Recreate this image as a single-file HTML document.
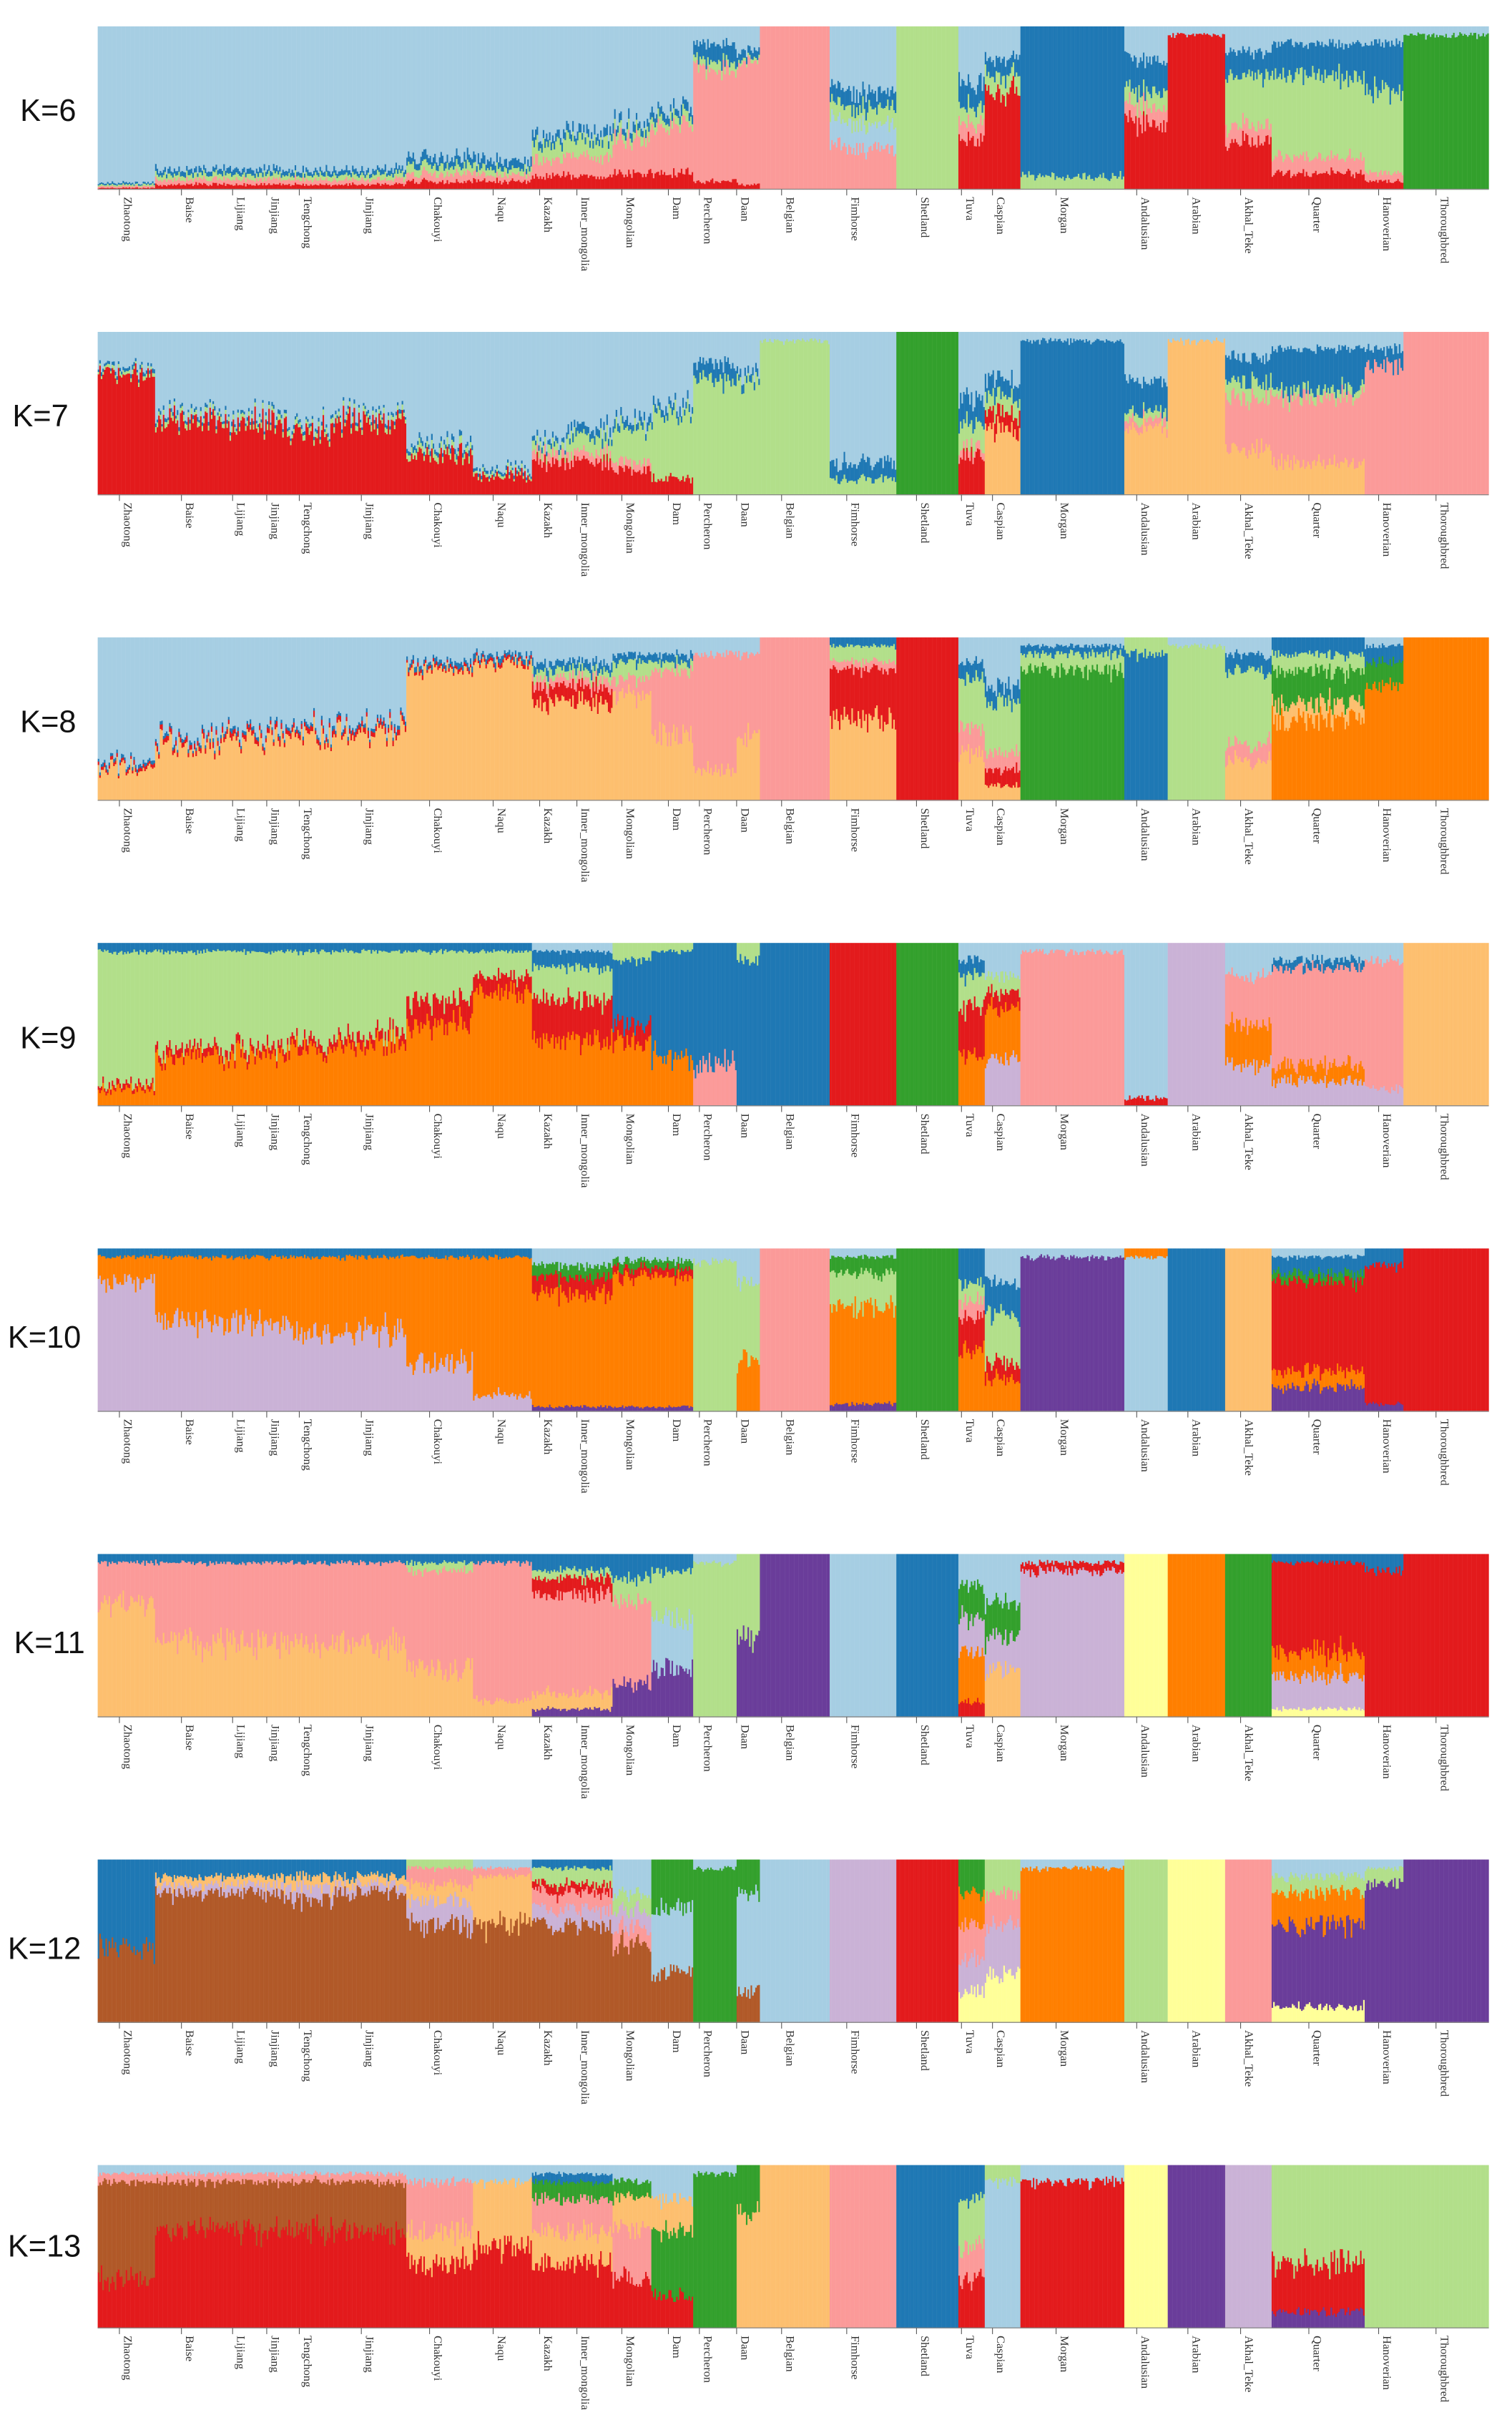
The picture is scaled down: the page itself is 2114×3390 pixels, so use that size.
<!DOCTYPE html>
<html><head><meta charset="utf-8"><style>
html,body{margin:0;padding:0;background:#fff;}
svg{display:block;}
.l text{font-family:"Liberation Serif",serif;font-size:7.5px;fill:#333;}
.k{font-family:"Liberation Sans",sans-serif;font-size:20px;fill:#111;}
</style></head><body>
<svg id="s" xmlns="http://www.w3.org/2000/svg" width="2114" height="3390" viewBox="0 0 975 1563.6" preserveAspectRatio="none">
<g id="bars"></g>
<text class="k" x="13" y="78">K=6</text>
<text class="k" x="8" y="275">K=7</text>
<text class="k" x="13" y="472">K=8</text>
<text class="k" x="13" y="676">K=9</text>
<text class="k" x="5" y="869">K=10</text>
<text class="k" x="9" y="1066">K=11</text>
<text class="k" x="5" y="1263">K=12</text>
<text class="k" x="5" y="1455">K=13</text>
<g class="l" transform="translate(0,127)"><text transform="translate(80,0) rotate(90)">Zhaotong</text><text transform="translate(120,0) rotate(90)">Baise</text><text transform="translate(153,0) rotate(90)">Lijiang</text><text transform="translate(175,0) rotate(90)">Jinjiang</text><text transform="translate(196,0) rotate(90)">Tengchong</text><text transform="translate(236,0) rotate(90)">Jinjiang</text><text transform="translate(280,0) rotate(90)">Chakouyi</text><text transform="translate(321,0) rotate(90)">Naqu</text><text transform="translate(351,0) rotate(90)">Kazakh</text><text transform="translate(375,0) rotate(90)">Inner_mongolia</text><text transform="translate(404,0) rotate(90)">Mongolian</text><text transform="translate(434,0) rotate(90)">Dam</text><text transform="translate(454,0) rotate(90)">Percheron</text><text transform="translate(478,0) rotate(90)">Daan</text><text transform="translate(507,0) rotate(90)">Belgian</text><text transform="translate(549,0) rotate(90)">Fimhorse</text><text transform="translate(594,0) rotate(90)">Shetland</text><text transform="translate(623,0) rotate(90)">Tuva</text><text transform="translate(643,0) rotate(90)">Caspian</text><text transform="translate(684,0) rotate(90)">Morgan</text><text transform="translate(736,0) rotate(90)">Andalusian</text><text transform="translate(769,0) rotate(90)">Arabian</text><text transform="translate(803,0) rotate(90)">Akhal_Teke</text><text transform="translate(847,0) rotate(90)">Quarter</text><text transform="translate(892,0) rotate(90)">Hanoverian</text><text transform="translate(929,0) rotate(90)">Thoroughbred</text></g>
<g class="l" transform="translate(0,324)"><text transform="translate(80,0) rotate(90)">Zhaotong</text><text transform="translate(120,0) rotate(90)">Baise</text><text transform="translate(153,0) rotate(90)">Lijiang</text><text transform="translate(175,0) rotate(90)">Jinjiang</text><text transform="translate(196,0) rotate(90)">Tengchong</text><text transform="translate(236,0) rotate(90)">Jinjiang</text><text transform="translate(280,0) rotate(90)">Chakouyi</text><text transform="translate(321,0) rotate(90)">Naqu</text><text transform="translate(351,0) rotate(90)">Kazakh</text><text transform="translate(375,0) rotate(90)">Inner_mongolia</text><text transform="translate(404,0) rotate(90)">Mongolian</text><text transform="translate(434,0) rotate(90)">Dam</text><text transform="translate(454,0) rotate(90)">Percheron</text><text transform="translate(478,0) rotate(90)">Daan</text><text transform="translate(507,0) rotate(90)">Belgian</text><text transform="translate(549,0) rotate(90)">Fimhorse</text><text transform="translate(594,0) rotate(90)">Shetland</text><text transform="translate(623,0) rotate(90)">Tuva</text><text transform="translate(643,0) rotate(90)">Caspian</text><text transform="translate(684,0) rotate(90)">Morgan</text><text transform="translate(736,0) rotate(90)">Andalusian</text><text transform="translate(769,0) rotate(90)">Arabian</text><text transform="translate(803,0) rotate(90)">Akhal_Teke</text><text transform="translate(847,0) rotate(90)">Quarter</text><text transform="translate(892,0) rotate(90)">Hanoverian</text><text transform="translate(929,0) rotate(90)">Thoroughbred</text></g>
<g class="l" transform="translate(0,521)"><text transform="translate(80,0) rotate(90)">Zhaotong</text><text transform="translate(120,0) rotate(90)">Baise</text><text transform="translate(153,0) rotate(90)">Lijiang</text><text transform="translate(175,0) rotate(90)">Jinjiang</text><text transform="translate(196,0) rotate(90)">Tengchong</text><text transform="translate(236,0) rotate(90)">Jinjiang</text><text transform="translate(280,0) rotate(90)">Chakouyi</text><text transform="translate(321,0) rotate(90)">Naqu</text><text transform="translate(351,0) rotate(90)">Kazakh</text><text transform="translate(375,0) rotate(90)">Inner_mongolia</text><text transform="translate(404,0) rotate(90)">Mongolian</text><text transform="translate(434,0) rotate(90)">Dam</text><text transform="translate(454,0) rotate(90)">Percheron</text><text transform="translate(478,0) rotate(90)">Daan</text><text transform="translate(507,0) rotate(90)">Belgian</text><text transform="translate(549,0) rotate(90)">Fimhorse</text><text transform="translate(594,0) rotate(90)">Shetland</text><text transform="translate(623,0) rotate(90)">Tuva</text><text transform="translate(643,0) rotate(90)">Caspian</text><text transform="translate(684,0) rotate(90)">Morgan</text><text transform="translate(736,0) rotate(90)">Andalusian</text><text transform="translate(769,0) rotate(90)">Arabian</text><text transform="translate(803,0) rotate(90)">Akhal_Teke</text><text transform="translate(847,0) rotate(90)">Quarter</text><text transform="translate(892,0) rotate(90)">Hanoverian</text><text transform="translate(929,0) rotate(90)">Thoroughbred</text></g>
<g class="l" transform="translate(0,718)"><text transform="translate(80,0) rotate(90)">Zhaotong</text><text transform="translate(120,0) rotate(90)">Baise</text><text transform="translate(153,0) rotate(90)">Lijiang</text><text transform="translate(175,0) rotate(90)">Jinjiang</text><text transform="translate(196,0) rotate(90)">Tengchong</text><text transform="translate(236,0) rotate(90)">Jinjiang</text><text transform="translate(280,0) rotate(90)">Chakouyi</text><text transform="translate(321,0) rotate(90)">Naqu</text><text transform="translate(351,0) rotate(90)">Kazakh</text><text transform="translate(375,0) rotate(90)">Inner_mongolia</text><text transform="translate(404,0) rotate(90)">Mongolian</text><text transform="translate(434,0) rotate(90)">Dam</text><text transform="translate(454,0) rotate(90)">Percheron</text><text transform="translate(478,0) rotate(90)">Daan</text><text transform="translate(507,0) rotate(90)">Belgian</text><text transform="translate(549,0) rotate(90)">Fimhorse</text><text transform="translate(594,0) rotate(90)">Shetland</text><text transform="translate(623,0) rotate(90)">Tuva</text><text transform="translate(643,0) rotate(90)">Caspian</text><text transform="translate(684,0) rotate(90)">Morgan</text><text transform="translate(736,0) rotate(90)">Andalusian</text><text transform="translate(769,0) rotate(90)">Arabian</text><text transform="translate(803,0) rotate(90)">Akhal_Teke</text><text transform="translate(847,0) rotate(90)">Quarter</text><text transform="translate(892,0) rotate(90)">Hanoverian</text><text transform="translate(929,0) rotate(90)">Thoroughbred</text></g>
<g class="l" transform="translate(0,915)"><text transform="translate(80,0) rotate(90)">Zhaotong</text><text transform="translate(120,0) rotate(90)">Baise</text><text transform="translate(153,0) rotate(90)">Lijiang</text><text transform="translate(175,0) rotate(90)">Jinjiang</text><text transform="translate(196,0) rotate(90)">Tengchong</text><text transform="translate(236,0) rotate(90)">Jinjiang</text><text transform="translate(280,0) rotate(90)">Chakouyi</text><text transform="translate(321,0) rotate(90)">Naqu</text><text transform="translate(351,0) rotate(90)">Kazakh</text><text transform="translate(375,0) rotate(90)">Inner_mongolia</text><text transform="translate(404,0) rotate(90)">Mongolian</text><text transform="translate(434,0) rotate(90)">Dam</text><text transform="translate(454,0) rotate(90)">Percheron</text><text transform="translate(478,0) rotate(90)">Daan</text><text transform="translate(507,0) rotate(90)">Belgian</text><text transform="translate(549,0) rotate(90)">Fimhorse</text><text transform="translate(594,0) rotate(90)">Shetland</text><text transform="translate(623,0) rotate(90)">Tuva</text><text transform="translate(643,0) rotate(90)">Caspian</text><text transform="translate(684,0) rotate(90)">Morgan</text><text transform="translate(736,0) rotate(90)">Andalusian</text><text transform="translate(769,0) rotate(90)">Arabian</text><text transform="translate(803,0) rotate(90)">Akhal_Teke</text><text transform="translate(847,0) rotate(90)">Quarter</text><text transform="translate(892,0) rotate(90)">Hanoverian</text><text transform="translate(929,0) rotate(90)">Thoroughbred</text></g>
<g class="l" transform="translate(0,1112)"><text transform="translate(80,0) rotate(90)">Zhaotong</text><text transform="translate(120,0) rotate(90)">Baise</text><text transform="translate(153,0) rotate(90)">Lijiang</text><text transform="translate(175,0) rotate(90)">Jinjiang</text><text transform="translate(196,0) rotate(90)">Tengchong</text><text transform="translate(236,0) rotate(90)">Jinjiang</text><text transform="translate(280,0) rotate(90)">Chakouyi</text><text transform="translate(321,0) rotate(90)">Naqu</text><text transform="translate(351,0) rotate(90)">Kazakh</text><text transform="translate(375,0) rotate(90)">Inner_mongolia</text><text transform="translate(404,0) rotate(90)">Mongolian</text><text transform="translate(434,0) rotate(90)">Dam</text><text transform="translate(454,0) rotate(90)">Percheron</text><text transform="translate(478,0) rotate(90)">Daan</text><text transform="translate(507,0) rotate(90)">Belgian</text><text transform="translate(549,0) rotate(90)">Fimhorse</text><text transform="translate(594,0) rotate(90)">Shetland</text><text transform="translate(623,0) rotate(90)">Tuva</text><text transform="translate(643,0) rotate(90)">Caspian</text><text transform="translate(684,0) rotate(90)">Morgan</text><text transform="translate(736,0) rotate(90)">Andalusian</text><text transform="translate(769,0) rotate(90)">Arabian</text><text transform="translate(803,0) rotate(90)">Akhal_Teke</text><text transform="translate(847,0) rotate(90)">Quarter</text><text transform="translate(892,0) rotate(90)">Hanoverian</text><text transform="translate(929,0) rotate(90)">Thoroughbred</text></g>
<g class="l" transform="translate(0,1309)"><text transform="translate(80,0) rotate(90)">Zhaotong</text><text transform="translate(120,0) rotate(90)">Baise</text><text transform="translate(153,0) rotate(90)">Lijiang</text><text transform="translate(175,0) rotate(90)">Jinjiang</text><text transform="translate(196,0) rotate(90)">Tengchong</text><text transform="translate(236,0) rotate(90)">Jinjiang</text><text transform="translate(280,0) rotate(90)">Chakouyi</text><text transform="translate(321,0) rotate(90)">Naqu</text><text transform="translate(351,0) rotate(90)">Kazakh</text><text transform="translate(375,0) rotate(90)">Inner_mongolia</text><text transform="translate(404,0) rotate(90)">Mongolian</text><text transform="translate(434,0) rotate(90)">Dam</text><text transform="translate(454,0) rotate(90)">Percheron</text><text transform="translate(478,0) rotate(90)">Daan</text><text transform="translate(507,0) rotate(90)">Belgian</text><text transform="translate(549,0) rotate(90)">Fimhorse</text><text transform="translate(594,0) rotate(90)">Shetland</text><text transform="translate(623,0) rotate(90)">Tuva</text><text transform="translate(643,0) rotate(90)">Caspian</text><text transform="translate(684,0) rotate(90)">Morgan</text><text transform="translate(736,0) rotate(90)">Andalusian</text><text transform="translate(769,0) rotate(90)">Arabian</text><text transform="translate(803,0) rotate(90)">Akhal_Teke</text><text transform="translate(847,0) rotate(90)">Quarter</text><text transform="translate(892,0) rotate(90)">Hanoverian</text><text transform="translate(929,0) rotate(90)">Thoroughbred</text></g>
<g class="l" transform="translate(0,1506)"><text transform="translate(80,0) rotate(90)">Zhaotong</text><text transform="translate(120,0) rotate(90)">Baise</text><text transform="translate(153,0) rotate(90)">Lijiang</text><text transform="translate(175,0) rotate(90)">Jinjiang</text><text transform="translate(196,0) rotate(90)">Tengchong</text><text transform="translate(236,0) rotate(90)">Jinjiang</text><text transform="translate(280,0) rotate(90)">Chakouyi</text><text transform="translate(321,0) rotate(90)">Naqu</text><text transform="translate(351,0) rotate(90)">Kazakh</text><text transform="translate(375,0) rotate(90)">Inner_mongolia</text><text transform="translate(404,0) rotate(90)">Mongolian</text><text transform="translate(434,0) rotate(90)">Dam</text><text transform="translate(454,0) rotate(90)">Percheron</text><text transform="translate(478,0) rotate(90)">Daan</text><text transform="translate(507,0) rotate(90)">Belgian</text><text transform="translate(549,0) rotate(90)">Fimhorse</text><text transform="translate(594,0) rotate(90)">Shetland</text><text transform="translate(623,0) rotate(90)">Tuva</text><text transform="translate(643,0) rotate(90)">Caspian</text><text transform="translate(684,0) rotate(90)">Morgan</text><text transform="translate(736,0) rotate(90)">Andalusian</text><text transform="translate(769,0) rotate(90)">Arabian</text><text transform="translate(803,0) rotate(90)">Akhal_Teke</text><text transform="translate(847,0) rotate(90)">Quarter</text><text transform="translate(892,0) rotate(90)">Hanoverian</text><text transform="translate(929,0) rotate(90)">Thoroughbred</text></g>
</svg>
<script>
(function(){
var C={lb:"#a6cee3",db:"#1f78b4",lg:"#b2df8a",dg:"#33a02c",pk:"#fb9a99",rd:"#e31a1c",lo:"#fdbf6f",or:"#ff7f00",lp:"#cab2d6",pu:"#6a3d9a",yl:"#ffff99",br:"#b15928"};
var X=[63,100,145,165,185,215,262,305,343,365,395,420,447,475,490,535,578,618,635,658,725,753,790,820,880,905,960];
function p(s){return s.split(" ").map(function(t){var a=t.split(":");return [a[0],+a[1]];});}
var CH6="rd:.03 pk:.03 lg:.03 db:.03 lb:.88";
var D=[
[ "rd:.01 pk:.01 lg:.01 db:.01 lb:.96",CH6,CH6,CH6,CH6,CH6,"rd:.05 pk:.05 lg:.05 db:.05 lb:.8","rd:.05 pk:.04 lg:.04 db:.05 lb:.82","rd:.08 pk:.1 lg:.1 db:.05 lb:.67","rd:.08 pk:.12 lg:.1 db:.05 lb:.65","rd:.1 pk:.2 lg:.05 db:.05 lb:.6","rd:.1 pk:.3 lg:.05 db:.05 lb:.5","rd:.05 pk:.7 lg:.05 db:.1 lb:.1","rd:.03 pk:.75 lg:.02 db:.05 lb:.15","pk:1","pk:.25 lb:.15 lg:.1 db:.1 lb:.4","lg:1","rd:.3 pk:.1 lg:.1 db:.15 lb:.35","rd:.6 lg:.1 db:.1 lb:.2","lg:.08 db:.92","rd:.4 pk:.1 lg:.1 db:.2 lb:.2","rd:.95 lb:.05","rd:.3 pk:.1 lg:.3 db:.15 lb:.15","rd:.1 pk:.1 lg:.5 db:.2 lb:.1","rd:.05 pk:.05 lg:.5 db:.3 lb:.1","dg:.95 lb:.05"],
[ "rd:.75 lg:.02 db:.02 lb:.21","rd:.45 lg:.03 db:.02 lb:.5","rd:.45 lg:.03 db:.02 lb:.5","rd:.45 lg:.03 db:.02 lb:.5","rd:.4 lg:.03 db:.02 lb:.55","rd:.45 lg:.03 db:.02 lb:.5","rd:.25 lg:.04 db:.03 lb:.68","rd:.12 lg:.02 db:.02 lb:.84","rd:.2 pk:.05 lg:.05 db:.03 lb:.67","rd:.2 pk:.05 lg:.1 db:.05 lb:.6","rd:.15 pk:.05 lg:.2 db:.05 lb:.55","rd:.1 lg:.4 db:.05 lb:.45","lg:.7 db:.1 lb:.2","lg:.7 db:.05 lb:.25","lg:.95 lb:.05","lg:.1 db:.1 lb:.8","dg:1","rd:.25 pk:.05 lg:.15 db:.15 lb:.4","lo:.4 rd:.1 lg:.1 db:.1 lb:.3","db:.95 lb:.05","lo:.4 pk:.05 lg:.05 db:.2 lb:.3","lo:.95 lb:.05","lo:.3 pk:.3 lg:.1 db:.15 lb:.15","lo:.2 pk:.4 lg:.05 db:.25 lb:.1","pk:.8 db:.1 lb:.1","pk:1"],
[ "lo:.2 rd:.02 db:.02 lb:.76","lo:.35 rd:.03 db:.02 lb:.6","lo:.38 rd:.03 db:.02 lb:.57","lo:.38 rd:.03 db:.02 lb:.57","lo:.4 rd:.03 db:.02 lb:.55","lo:.42 rd:.03 db:.02 lb:.53","lo:.8 rd:.02 db:.03 lb:.15","lo:.85 rd:.02 db:.03 lb:.1","lo:.6 rd:.1 pk:.05 lg:.05 db:.05 lb:.15","lo:.6 rd:.1 pk:.05 lg:.05 db:.05 lb:.15","lo:.65 pk:.1 lg:.1 db:.05 lb:.1","lo:.4 pk:.4 lg:.05 db:.05 lb:.1","lo:.2 pk:.7 lb:.1","lo:.4 pk:.5 lb:.1","pk:1","lo:.5 rd:.3 pk:.05 lg:.1 db:.05","rd:1","lo:.3 pk:.15 lg:.3 db:.1 lb:.15","lo:.1 rd:.1 pk:.1 lg:.3 db:.1 lb:.3","dg:.8 lg:.1 db:.05 lb:.05","db:.9 lg:.1","lg:.95 lb:.05","lo:.25 pk:.1 lg:.45 db:.1 lb:.1","or:.5 lo:.1 dg:.2 lg:.1 db:.1","or:.7 dg:.15 db:.1 lb:.05","or:1"],
[ "or:.1 rd:.03 lg:.82 db:.05","or:.3 rd:.05 lg:.6 db:.05","or:.3 rd:.05 lg:.6 db:.05","or:.32 rd:.05 lg:.58 db:.05","or:.35 rd:.05 lg:.55 db:.05","or:.38 rd:.06 lg:.51 db:.05","or:.5 rd:.15 lg:.3 db:.05","or:.7 rd:.1 lg:.15 db:.05","or:.4 rd:.25 lg:.2 db:.1 lb:.05","or:.4 rd:.25 lg:.2 db:.1 lb:.05","or:.4 rd:.1 db:.4 lg:.1","or:.3 db:.65 lg:.05","pk:.25 db:.75","db:.9 lg:.1","db:1","rd:1","dg:1","or:.3 rd:.3 lg:.2 db:.1 lb:.1","lp:.3 or:.3 rd:.1 lg:.1 lb:.2","pk:.95 lb:.05","rd:.05 lb:.95","lp:1","lp:.25 or:.25 pk:.3 lb:.2","lp:.15 or:.1 pk:.6 db:.05 lb:.1","lp:.1 pk:.8 lb:.1","lo:1"],
[ "lp:.8 or:.15 db:.05","lp:.55 or:.4 db:.05","lp:.55 or:.4 db:.05","lp:.55 or:.4 db:.05","lp:.5 or:.45 db:.05","lp:.5 or:.45 db:.05","lp:.3 or:.65 db:.05","lp:.1 or:.85 db:.05","pu:.03 or:.7 rd:.1 dg:.07 lb:.1","pu:.03 or:.7 rd:.1 dg:.07 lb:.1","pu:.03 or:.8 rd:.05 dg:.05 lb:.07","pu:.03 or:.8 rd:.05 dg:.05 lb:.07","lg:.92 lb:.08","or:.3 lg:.5 lb:.2","pk:1","pu:.05 or:.6 lg:.2 dg:.1 lb:.05","dg:1","or:.4 rd:.2 pk:.1 lg:.1 db:.2","or:.2 rd:.1 lg:.3 db:.2 lb:.2","pu:.95 lb:.05","lb:.95 or:.05","db:1","lo:1","pu:.15 or:.1 rd:.55 dg:.05 db:.1 lb:.05","pu:.05 rd:.85 db:.1","rd:1"],
[ "lo:.7 pk:.25 db:.05","lo:.45 pk:.5 db:.05","lo:.45 pk:.5 db:.05","lo:.45 pk:.5 db:.05","lo:.45 pk:.5 db:.05","lo:.45 pk:.5 db:.05","lo:.3 pk:.6 lg:.05 db:.05","lo:.1 pk:.85 db:.05","pu:.05 lo:.1 pk:.6 rd:.1 lg:.05 db:.1","pu:.05 lo:.1 pk:.6 rd:.1 lg:.05 db:.1","pu:.2 pk:.5 lg:.15 db:.15","pu:.3 lb:.3 lg:.3 db:.1","lg:.95 lb:.05","pu:.5 lg:.5","pu:1","lb:1","db:1","rd:.1 or:.3 lp:.2 dg:.2 lb:.2","lo:.3 lp:.2 dg:.2 lb:.3","lp:.9 rd:.05 lb:.05","yl:1","or:1","dg:1","yl:.05 lp:.2 or:.15 rd:.55 db:.05","rd:.9 db:.1","rd:1"],
[ "br:.45 db:.55","br:.8 lp:.05 lo:.05 db:.1","br:.8 lp:.05 lo:.05 db:.1","br:.8 lp:.05 lo:.05 db:.1","br:.75 lp:.08 lo:.07 db:.1","br:.8 lp:.05 lo:.05 db:.1","br:.6 lp:.15 lo:.1 pk:.1 lg:.05","br:.6 lo:.3 pk:.05 lb:.05","br:.6 lp:.1 pk:.1 rd:.05 lg:.1 db:.05","br:.6 lp:.1 pk:.1 rd:.05 lg:.1 db:.05","br:.5 pk:.1 lp:.1 lg:.1 lb:.2","br:.3 lb:.4 dg:.3","dg:.95 lb:.05","br:.2 lb:.6 dg:.2","lb:1","lp:1","rd:1","yl:.2 lp:.2 pk:.2 or:.2 dg:.2","yl:.3 lp:.3 pk:.2 lg:.2","or:.95 lb:.05","lg:1","yl:1","pk:1","yl:.1 pu:.5 or:.2 lg:.1 lb:.1","pu:.85 lg:.1 lb:.05","pu:1"],
[ "rd:.3 br:.6 pk:.05 lb:.05","rd:.6 br:.3 pk:.05 lb:.05","rd:.6 br:.3 pk:.05 lb:.05","rd:.6 br:.3 pk:.05 lb:.05","rd:.6 br:.3 pk:.05 lb:.05","rd:.6 br:.3 pk:.05 lb:.05","rd:.4 lo:.2 pk:.3 lb:.1","rd:.5 lo:.4 lb:.1","rd:.4 lo:.2 pk:.2 dg:.1 db:.05 lb:.05","rd:.4 lo:.2 pk:.2 dg:.1 db:.05 lb:.05","rd:.3 pk:.3 lo:.2 dg:.1 lb:.1","rd:.2 dg:.4 lo:.2 lb:.2","dg:.95 lb:.05","lo:.7 dg:.3","lo:1","pk:1","db:1","rd:.3 pk:.2 lg:.3 db:.2","lb:.9 lg:.1","rd:.9 lb:.1","yl:1","pu:1","lp:1","pu:.1 rd:.3 lg:.6","lg:1","lg:1"]
];
var seed=7;function r(){seed=(seed*16807)%2147483647;return seed/2147483647;}
var out=[];
for(var k=0;k<8;k++){
 var top=17+197*k,H=105;
 for(var i=0;i<26;i++){
  var comp=p(D[k][i]);
  for(var x=X[i];x<X[i+1];x+=1){
   var w=comp.map(function(c){var v=c[1];if(v<0.99&&v>0.005)v=v*(0.75+r()*0.5);return v;});
   var s=w.reduce(function(a,b){return a+b;},0);
   var y=top+H;
   for(var j=0;j<comp.length;j++){var h=w[j]/s*H;y-=h;
    out.push('<rect x="'+x+'" y="'+y.toFixed(2)+'" width="1.1" height="'+(h+0.3).toFixed(2)+'" fill="'+C[comp[j][0]]+'"/>');}
  }
 }
 out.push('<line x1="63" y1="'+(top+H)+'" x2="960" y2="'+(top+H)+'" stroke="#888" stroke-width="0.6"/>');
 [80,120,153,175,196,236,280,321,351,375,404,434,454,478,507,549,594,623,643,684,736,769,803,847,892,929].forEach(function(t){out.push('<line x1="'+(t-3)+'" y1="'+(top+H)+'" x2="'+(t-3)+'" y2="'+(top+H+4)+'" stroke="#555" stroke-width="0.5"/>');});
}
document.getElementById("bars").innerHTML=out.join("");
})();
</script>
</body></html>
